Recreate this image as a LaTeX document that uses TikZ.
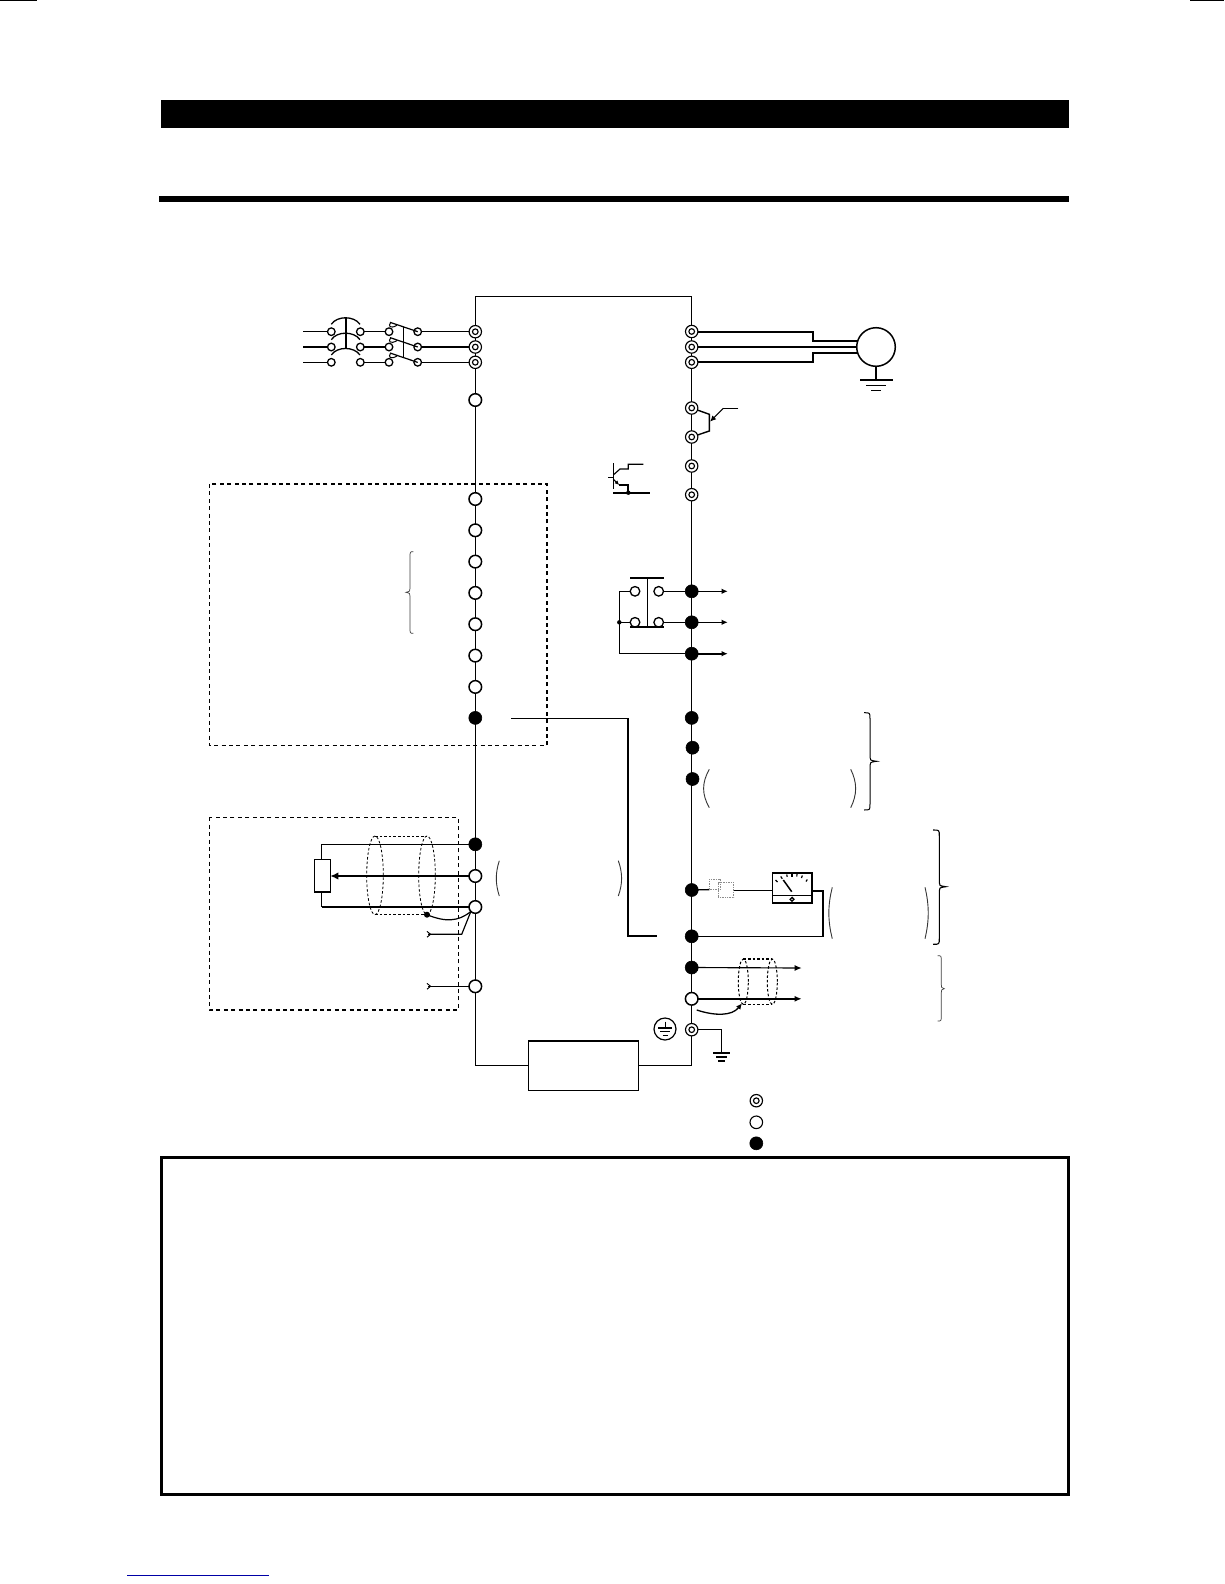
\documentclass[tikz,border=0pt]{standalone}
\usetikzlibrary{arrows.meta,backgrounds,calc}
\tikzset{
  dterm/.style={circle,draw,fill=white,line width=1.15pt,minimum size=12.4pt,inner sep=0pt,outer sep=0pt,
    path picture={\draw[line width=1.15pt] (path picture bounding box.center) circle (2.8pt);}},
  oterm/.style={circle,draw,fill=white,line width=1.5pt,minimum size=12.6pt,inner sep=0pt,outer sep=0pt},
  fterm/.style={circle,draw,fill=black,line width=.6pt,minimum size=13pt,inner sep=0pt,outer sep=0pt},
  sterm/.style={circle,draw,fill=white,line width=1.3pt,minimum size=7.6pt,inner sep=0pt,outer sep=0pt},
  rterm/.style={circle,draw,fill=white,line width=1.3pt,minimum size=9.6pt,inner sep=0pt,outer sep=0pt},
  wire/.style={line width=1.3pt},
  thinwire/.style={line width=1.15pt},
  heavy/.style={line width=2pt},
  plainbox/.style={rectangle,draw,fill=white,line width=1.4pt,inner sep=0pt,outer sep=0pt},
  dbox/.style={line width=1.2pt,dash pattern=on 4pt off 3.4pt},
  shield/.style={line width=.8pt,dash pattern=on 2.6pt off 2pt},
  hook/.style={line width=.7pt,draw=black!75},
  tip/.style={-{Latex[length=7pt,width=6pt]}},
  slim/.style={-{Latex[length=6pt,width=5.5pt]}}
}
\newcommand{\mybrace}[7][]{% opts, x-end, x-spine, x-tip, y-top, y-mid, y-bottom
  \draw[#1] (#2,#5) .. controls (#3,#5) .. (#3,{#5+6}) -- (#3,{#6-4}) .. controls (#3,{#6-1}) .. (#4,#6)
    .. controls (#3,{#6+1}) .. (#3,{#6+4}) -- (#3,{#7-6}) .. controls (#3,#7) .. (#2,#7);}
\begin{document}
\begin{tikzpicture}[x=1pt,y=-1pt]
\useasboundingbox (0,0) rectangle (1224,1584);
\begin{scope}[on background layer]
\fill[white] (0,0) rectangle (1224,1584);
\end{scope}

% page furniture
\fill (0,0) rectangle (37,1);
\fill (1190,0) rectangle (1224,1);
\fill (161,100) rectangle (1069,128);
\fill (158.5,196) rectangle (1069,202);
\draw[line width=3pt] (161.5,1157) rectangle (1068.5,1494.5);
\draw[line width=1pt,draw={rgb,1:red,0;green,0;blue,.65}] (127,1575) -- (269,1575);

% corners of the main frame
\coordinate (TL) at (475.3,296.7);
\coordinate (TR) at (691.7,296.7);
\coordinate (BL) at (475.3,1065.3);
\coordinate (BR) at (691.7,1065.3);
\node[plainbox,minimum width=110.4pt,minimum height=49.3pt] (filter) at (583.5,1065.6) {};

% terminals, left column
\node[dterm] (L1) at (475.3,331.7) {};
\node[dterm] (L2) at (475.3,347) {};
\node[dterm] (L3) at (475.3,362.3) {};
\node[oterm] (L4) at (475.3,400) {};
\node[oterm] (A1) at (475.3,499) {};
\node[oterm] (A2) at (475.3,530.3) {};
\node[oterm] (A3) at (475.3,561.6) {};
\node[oterm] (A4) at (475.3,592.9) {};
\node[oterm] (A5) at (475.3,624.2) {};
\node[oterm] (A6) at (475.3,655.6) {};
\node[oterm] (A7) at (475.3,686.9) {};
\node[fterm] (A8) at (475.3,717.9) {};
\node[fterm] (B1) at (475.3,844.3) {};
\node[oterm] (B2) at (475.3,876) {};
\node[oterm] (B3) at (475.3,907) {};
\node[oterm] (B4) at (475.3,986.3) {};

% terminals, right column
\node[dterm] (R1) at (691.7,331.5) {};
\node[dterm] (R2) at (691.7,347) {};
\node[dterm] (R3) at (691.7,362.3) {};
\node[dterm] (R4) at (691.7,408) {};
\node[dterm] (R5) at (691.7,437) {};
\node[dterm] (R6) at (691.7,466) {};
\node[dterm] (R7) at (691.7,494.7) {};
\node[fterm] (C1) at (691.7,591.3) {};
\node[fterm] (C2) at (691.7,622.3) {};
\node[fterm] (C3) at (691.7,653.7) {};
\node[fterm] (D1) at (691.7,717.9) {};
\node[fterm] (D2) at (692.5,747.7) {};
\node[fterm] (D3) at (692.5,779) {};
\node[fterm] (E1) at (691.7,890) {};
\node[fterm] (E2) at (691.7,936.3) {};
\node[fterm] (F1) at (691.7,967.5) {};
\node[oterm] (F2) at (691.7,998.8) {};
\node[dterm] (F3) at (691.7,1029.7) {};

% main frame
\begin{scope}[on background layer]
\draw[wire] (filter.west) -- (filter.west -| BL) -- (TL) -- (TR) -- (filter.east -| BR) -- (filter.east);
\end{scope}

% breaker and contactor, incoming supply
\coordinate (S1) at (303.3,331.7);
\coordinate (S2) at (303.3,347);
\coordinate (S3) at (303.3,362.3);
\node[sterm] (Q1a) at (331.3,331.7) {};
\node[sterm] (Q2a) at (331.3,347) {};
\node[sterm] (Q3a) at (331.3,362.3) {};
\node[sterm] (Q1b) at (360.3,331.7) {};
\node[sterm] (Q2b) at (360.3,347) {};
\node[sterm] (Q3b) at (360.3,362.3) {};
\node[sterm] (K1a) at (389,331.7) {};
\node[sterm] (K2a) at (389,347) {};
\node[sterm] (K3a) at (389,362.3) {};
\node[sterm] (K1b) at (417.7,331.7) {};
\node[sterm] (K2b) at (417.7,347) {};
\node[sterm] (K3b) at (417.7,362.3) {};
\draw[thinwire] (S1) -- (Q1a) (Q1b) -- (K1a) (K1b) -- (L1);
\draw[heavy] (S2) -- (Q2a) (Q2b) -- (K2a) (K2b) -- (L2);
\draw[thinwire] (S3) -- (Q3a) (Q3b) -- (K3a) (K3b) -- (L3);
\foreach \y in {324.3,339.7,355}
  \draw[line width=1.3pt] (331.3,\y) .. controls (337,{\y-8.7}) and (354,{\y-8.7}) .. (360,\y);
\draw[line width=1.6pt] (345.7,317.7) -- (345.7,349);
\foreach \y in {322.3,337.6,353}{
  \draw[line width=1.2pt] (390,\y) -- (417.7,{\y+9.4});
  \draw[line width=1pt] (390.5,{\y+.5}) .. controls (388,{\y+3.5}) and (390,{\y+7}) .. (397,{\y+3});
}
\draw[thinwire] (403.7,326.7) -- (403.7,357.3);

% motor
\node[circle,draw,fill=white,line width=1.5pt,minimum size=38.6pt,inner sep=0pt,outer sep=0pt] (motor) at (876,347) {};
\coordinate (mU) at (813.3,341);
\coordinate (mW) at (813.3,352.7);
\begin{scope}[on background layer]
\draw[heavy] (R1) -| (mU) -- (mU -| motor);
\draw[heavy] (R2) -- (motor);
\draw[heavy] (R3) -| (mW) -- (mW -| motor);
\end{scope}
\coordinate (mG) at (876,380);
\draw[line width=1.4pt] (motor) -- (mG);
\draw[line width=1.8pt] (860,380) -- (892.7,380);
\draw[line width=1pt] (866,385.3) -- (886,385.3);
\draw[line width=1pt] (871,390) -- (881,390);

% brake transistor
\coordinate (Ta) at (709.3,414.3);
\coordinate (Tb) at (709.3,431);
\coordinate (Tc) at (723.3,408.3);
\coordinate (Td) at (738.3,408.3);
\coordinate (Te) at (710,421.7);
\begin{scope}[on background layer]
\draw[line width=1.4pt] (R4.center) -- (Ta) -- (Tb) -- (R5.center);
\end{scope}
\draw[thinwire] (Td) -- (Tc);
\draw[thinwire,slim] (Tc) -- (Te);

% small transistor symbol
\coordinate (Xd) at (628.3,492.7);
\draw[thinwire] (613.3,463.3) -- (613.3,489.3);
\draw[thinwire] (608,477.3) -- (613.3,477.3);
\draw[thinwire] (613.3,475) -- (620,469) -- (628.3,469) -- (628.3,464.3) -- (643.3,464.3);
\draw[thinwire,-{Latex[length=4.5pt,width=4pt]}] (613.3,479.3) -- (619.3,485);
\draw[heavy] (619.3,485.3) -- (628.3,485.3) -- (Xd);
\draw[heavy] (613.3,492.7) -- (650,492.7);
\fill (Xd) circle (2.2pt);

% relay contact
\node[rterm] (Ra) at (635,591.3) {};
\node[rterm] (Rb) at (658.7,591.3) {};
\node[rterm] (Rc) at (635,622.3) {};
\node[rterm] (Rd) at (658.7,622.3) {};
\coordinate (Rn) at (619.3,591.3);
\coordinate (Rm) at (619.3,622.3);
\coordinate (Rs) at (619.3,653.7);
\draw[line width=1.8pt] (630,577.7) -- (664,577.7);
\draw[line width=1.8pt] (630,626.7) -- (664,626.7);
\draw[line width=1.5pt] (647.3,577.7) -- (647.3,626.7);
\begin{scope}[on background layer]
\draw[line width=1.5pt] (Ra) -- (Rn) -- (Rs) -- (C3);
\draw[thinwire] (Rm) -- (Rc);
\draw[line width=1.5pt] (Rb) -- (C1);
\draw[thinwire] (Rd) -- (C2);
\end{scope}
\fill (Rm) circle (2.2pt);
\coordinate (Oa) at (727.7,591.3);
\coordinate (Ob) at (727.7,622.3);
\coordinate (Oc) at (727.7,653.7);
\draw[thinwire,slim] (C1) -- (Oa);
\draw[thinwire,slim] (C2) -- (Ob);
\draw[line width=1.6pt,slim] (C3) -- (Oc);

% dashed enclosures
\draw[dbox] (209.3,484) rectangle (547,745.5);
\draw[dbox] (209.3,817.3) rectangle (458.3,1010);

% link between the two columns
\coordinate (J0) at (511,718.3);
\coordinate (J1) at (628,718.3);
\coordinate (J2) at (628,935.9);
\coordinate (J3) at (656.7,935.9);
\draw[line width=1.5pt] (J0) -- (J1) -- (J2) -- (J3);

% potentiometer and shielded cable
\node[plainbox,minimum width=16pt,minimum height=32.7pt] (pot) at (322.3,875.7) {};
\coordinate (Pt) at (321.7,844.3);
\coordinate (Pb) at (321.7,907);
\draw[thinwire] (B1) -- (Pt) -- (Pt |- pot.north);
\draw[line width=1.9pt] (B3) -- (Pb);
\draw[thinwire] (Pb) -- (Pb |- pot.south);
\draw[line width=2pt,-{Latex[length=8pt,width=7.5pt]}] (B2) -- (pot.east |- B2);
\draw[shield] (375,875.3) ellipse [x radius=8.3pt,y radius=39.3pt];
\draw[shield] (427,875.3) ellipse [x radius=8.3pt,y radius=39.3pt];
\draw[shield] (375,836) -- (427,836);
\draw[shield] (375,914.7) -- (427,914.7);
\coordinate (Sd) at (427,914.7);
\fill (Sd) circle (3pt);
\draw[line width=1.2pt] (Sd) .. controls (445,922) and (458,922) .. (B3.south west);
\coordinate (Ha) at (461.7,934.3);
\coordinate (Hb) at (428,934.3);
\coordinate (Hc) at (428,986.3);
\draw[thinwire] (B3.south west) -- (Ha) -- (Hb);
\draw[thinwire] (B4) -- (Hc);
\draw[line width=.9pt] (427,931.4) -- (430.6,934.3) -- (427,937.2);
\draw[line width=.9pt] (427,983.4) -- (430.6,986.3) -- (427,989.2);

% meter
\node[rectangle,draw,fill=white,line width=1.7pt,minimum width=39.7pt,minimum height=30.6pt,inner sep=0pt,outer sep=0pt] (meter) at (792.2,888) {};
\draw[line width=1.2pt] (meter.west |- 0,895.7) -- (meter.east |- 0,895.7);
\draw[line width=1.3pt] (792,899.3) circle (1.9pt);
\draw[line width=1.5pt] (783.3,880) -- (791.7,891.7);
\foreach \a/\b/\c/\d in {775.5/880/777.5/882,780.7/876.5/782.3/878.7,786.7/874.5/787.2/876.8,792/873.5/792/876.8,797/873.5/796.8/876.5,802.3/875.5/801.5/878,807.3/879.5/806/881.5}
  \draw[line width=1.2pt] (\a,\b) -- (\c,\d);
\coordinate (Fa) at (709.3,889.6);
\coordinate (Fb) at (733.7,890.7);
\coordinate (Mr) at (822.7,890.7);
\draw[line width=1.3pt] (E1) -- (Fa);
\draw[line width=1.3pt] (Fb) -- (Fb -| meter.west);
\draw[line width=1.6pt] (Mr -| meter.east) -- (Mr) -- (Mr |- E2) -- (E2);
\draw[line width=.7pt,draw=black!45,densely dotted] (709.3,879.3) rectangle (720,889.3);
\draw[line width=.7pt,draw=black!45,densely dotted] (718,882.7) rectangle (733.7,897.7);

% output pair with shield
\coordinate (Ga) at (801.7,968);
\coordinate (Gb) at (801.7,998.8);
\draw[thinwire,tip] (F1) -- (Ga);
\draw[heavy,tip] (F2) -- (Gb);
\draw[shield,line width=1pt] (743.3,981.7) ellipse [x radius=5pt,y radius=22.7pt];
\draw[shield,line width=1pt] (772.3,981.7) ellipse [x radius=5pt,y radius=22.7pt];
\draw[shield,line width=1.2pt] (743.3,959) -- (772.3,959);
\draw[shield,line width=1.2pt] (743.3,1004.4) -- (772.3,1004.4);
\coordinate (Ca) at (696.7,1010);
\coordinate (Cb) at (742,1003.3);
\draw[line width=1.3pt,slim] (Ca) .. controls (715,1016) and (732,1016) .. (Cb);

% protective earth
\node[circle,draw,fill=white,line width=1.2pt,minimum size=22pt,inner sep=0pt,outer sep=0pt] (pe) at (665,1029) {};
\draw[line width=1pt] (665,1021.5) -- (665,1028);
\draw[line width=1.2pt] (658,1028) -- (672,1028);
\draw[line width=1pt] (660,1031.5) -- (670,1031.5);
\draw[line width=1pt] (662.5,1035) -- (667.5,1035);
\coordinate (Ga2) at (721.7,1053.3);
\draw[line width=1.3pt] (F3) -| (Ga2);
\draw[line width=1.8pt] (713.3,1053.3) -- (730,1053.3);
\draw[line width=1.4pt] (716,1057) -- (727.3,1057);
\draw[line width=1.4pt] (718.3,1061) -- (725,1061);

% legend
\node[dterm] (k1) at (756.3,1100.7) {};
\node[oterm,line width=1.1pt] (k2) at (756.3,1122.3) {};
\node[fterm] (k3) at (756.3,1143.3) {};

% brackets
\mybrace[hook]{413.3}{410}{406}{551.7}{592.3}{633.3}
\mybrace[line width=1pt]{864}{870}{876.7}{712.7}{761.3}{810}
\mybrace[line width=1.1pt]{933}{939.3}{945.8}{830}{886.7}{944.3}
\mybrace[hook]{937.7}{941.3}{944.3}{955.7}{988.7}{1021}
\foreach \a/\b/\c/\d in {499.3/495.3/860.7/896, 709.3/701.7/769.3/807.7, 832.3/827.7/887.3/938.7}
  \draw[line width=.9pt,draw=black!80] (\a,\c) .. controls (\b,{\c+(\d-\c)*.35}) and (\b,{\c+(\d-\c)*.65}) .. (\a,\d);
\foreach \a/\b/\c/\d in {618.3/622.7/860.7/896, 850.7/857.3/769.3/807.7, 925/929.3/887.3/938.7}
  \draw[line width=.9pt,draw=black!80] (\a,\c) .. controls (\b,{\c+(\d-\c)*.35}) and (\b,{\c+(\d-\c)*.65}) .. (\a,\d);
\end{tikzpicture}
\end{document}
